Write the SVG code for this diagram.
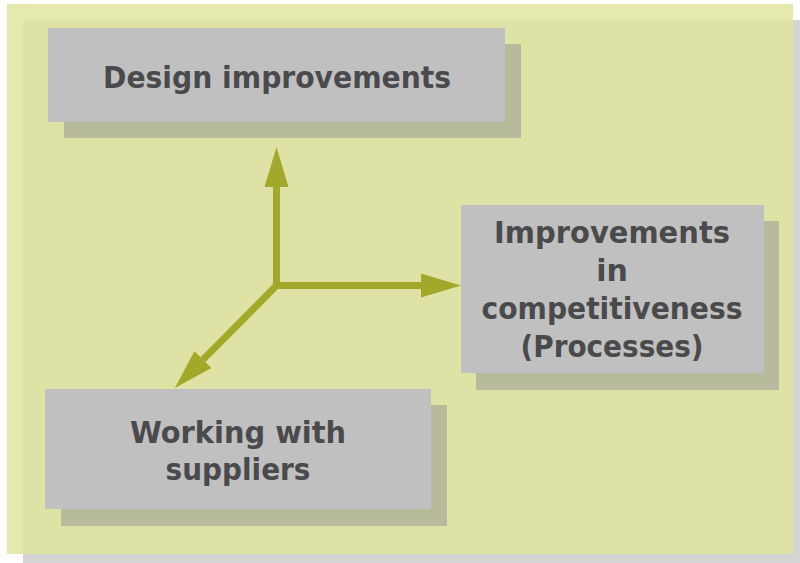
<svg xmlns="http://www.w3.org/2000/svg" width="800" height="563" viewBox="0 0 800 563">
  <style>
    .box { fill: #c0c0c0; }
    .shadow { fill: #b8bb9b; }
    .label { font-family: "DejaVu Sans", Verdana, sans-serif; font-weight: bold; font-size: 30px; fill: #4a4a4c; text-anchor: middle; }
    .conn { fill: none; stroke: #a2a82a; stroke-width: 7; stroke-linecap: butt; }
  </style>
  <defs>
    <marker id="head" markerUnits="userSpaceOnUse" viewBox="0 -12 40 24" markerWidth="40" markerHeight="24" refX="0" refY="0" orient="auto">
      <path d="M0,-12 L40,0 L0,12 Z" fill="#a2a82a"/>
    </marker>
  </defs>

  <!-- page background -->
  <rect width="800" height="563" fill="#ffffff"/>
  <!-- panel with drop shadow -->
  <rect x="23" y="20" width="777" height="543" fill="#d4d4d4"/>
  <rect x="7" y="4" width="786" height="550" fill="#e6e9ad"/>
  <rect x="23" y="20" width="770" height="534" fill="#dfe2a5"/>

  <!-- connectors -->
  <g id="connectors">
    <path class="conn" d="M276.5,289 V187" marker-end="url(#head)"/>
    <path class="conn" d="M273,285.5 H421" marker-end="url(#head)"/>
    <path class="conn" d="M278,284 L203,359.6" marker-end="url(#head)"/>
  </g>

  <g id="design">
    <rect class="shadow" x="64" y="44" width="457" height="94"/>
    <rect class="box" x="48" y="28" width="457" height="94"/>
    <text class="label" x="277" y="88" textLength="348" lengthAdjust="spacingAndGlyphs">Design improvements</text>
  </g>

  <g id="competitiveness">
    <rect class="shadow" x="476" y="221" width="303" height="169"/>
    <rect class="box" x="461" y="205" width="303" height="168"/>
    <text class="label" x="612" y="243" textLength="236" lengthAdjust="spacingAndGlyphs">Improvements</text>
    <text class="label" x="612" y="281">in</text>
    <text class="label" x="612" y="319" textLength="261" lengthAdjust="spacingAndGlyphs">competitiveness</text>
    <text class="label" x="612" y="357" textLength="183" lengthAdjust="spacingAndGlyphs">(Processes)</text>
  </g>

  <g id="suppliers">
    <rect class="shadow" x="61" y="405" width="386" height="121"/>
    <rect class="box" x="45" y="389" width="386" height="120"/>
    <text class="label" x="238" y="443" textLength="216" lengthAdjust="spacingAndGlyphs">Working with</text>
    <text class="label" x="238" y="480" textLength="145" lengthAdjust="spacingAndGlyphs">suppliers</text>
  </g>
</svg>
